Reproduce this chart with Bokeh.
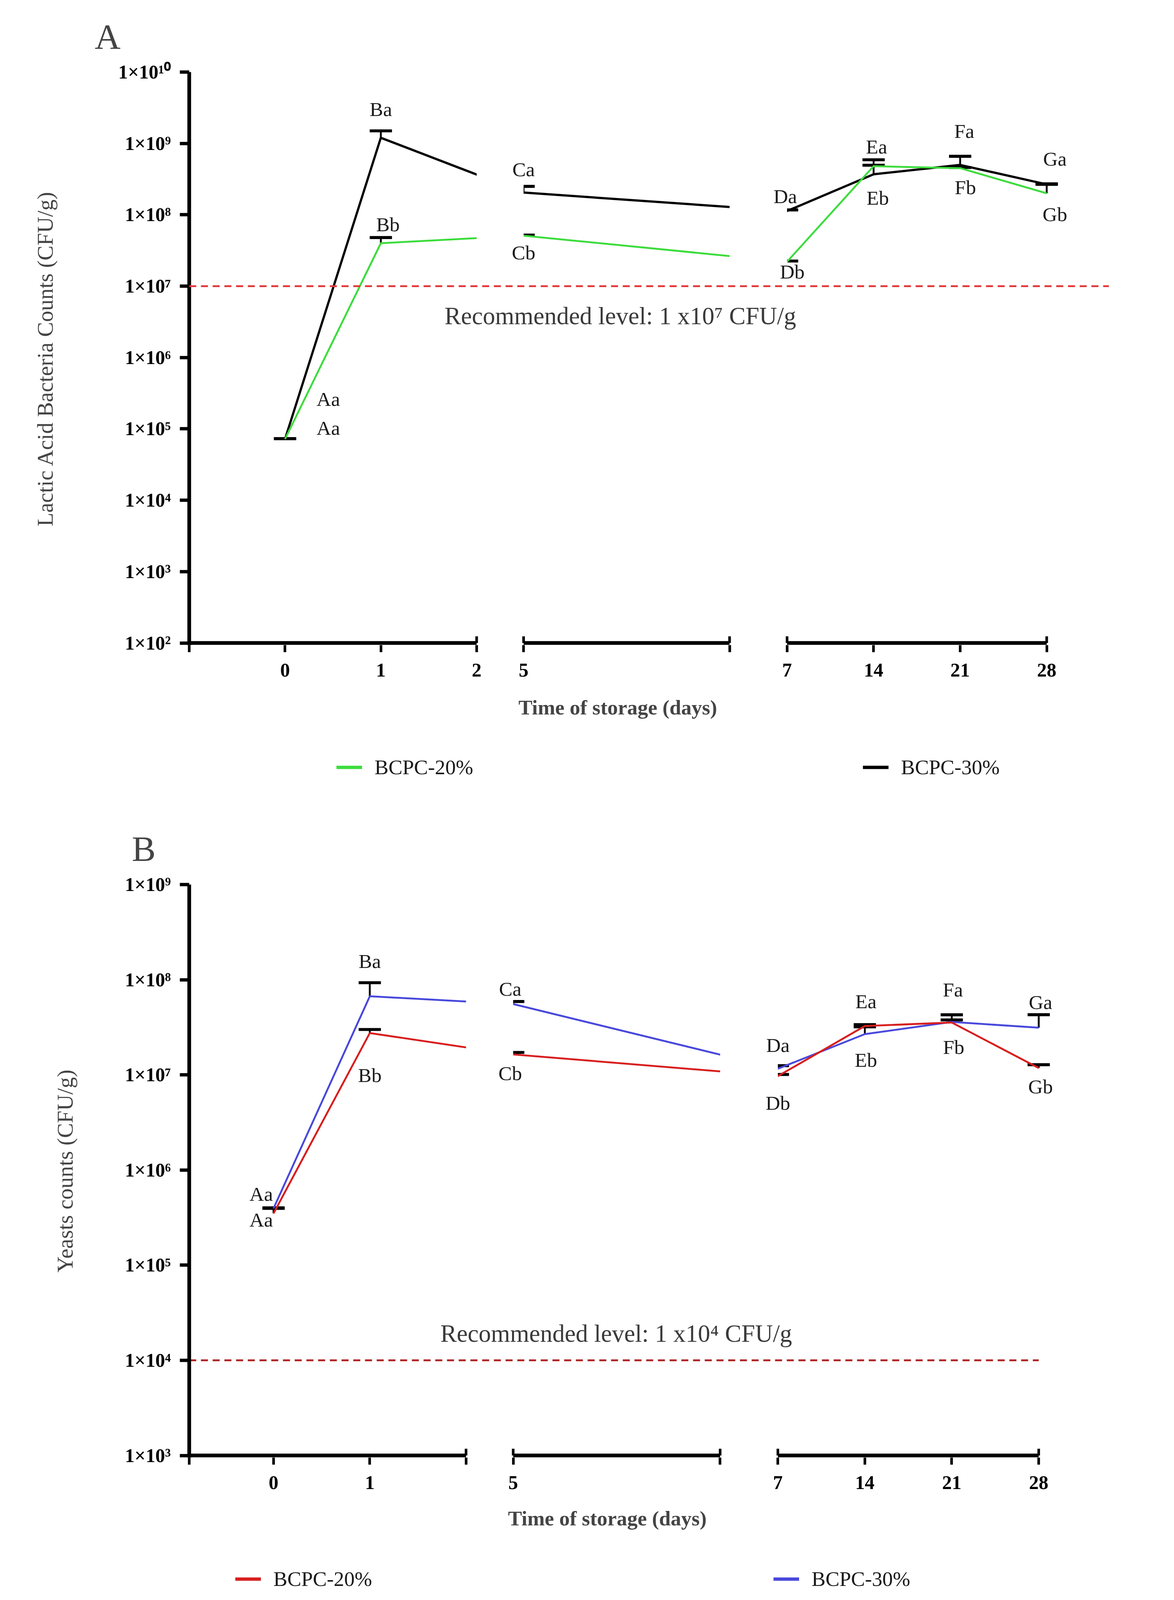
import math
from bokeh.plotting import figure
from bokeh.models import (Range1d, FixedTicker, Span, Whisker, TeeHead, ColumnDataSource,
                          Legend, LegendItem)
from bokeh.layouts import column
from bokeh.embed import file_html
from bokeh.resources import INLINE
from bokeh.core.properties import value

# ---------------- data ----------------
DAYS = [0, 1, 5, 7, 14, 21, 28]
X_TICK_DAYS = [0, 1, 2, 5, 7, 14, 21, 28]
X_TICK_LABELS_A = ["0", "1", "2", "5", "7", "14", "21", "28"]
X_TICK_LABELS_B = ["0", "1", "", "5", "7", "14", "21", "28"]
SERIES_NAMES = ["BCPC-20%", "BCPC-30%"]
X_TITLE = "Time of storage (days)"

# Panel A: lactic acid bacteria (CFU/g), mean and upper error
LAB_20 = [7.2e4, 4.0e7, 5.1e7, 2.2e7, 4.8e8, 4.5e8, 2.0e8]
LAB_20_UP = [7.3e4, 4.8e7, 5.2e7, 2.25e7, 4.95e8, 4.6e8, 2.67e8]
LAB_30 = [7.2e4, 1.2e9, 2.05e8, 1.13e8, 3.7e8, 5.0e8, 2.67e8]
LAB_30_UP = [7.3e4, 1.5e9, 2.5e8, 1.17e8, 5.9e8, 6.6e8, 2.72e8]
LAB_THRESHOLD = 1e7
LAB_LABELS = ["Aa", "Aa", "Ba", "Bb", "Ca", "Cb", "Da", "Db", "Ea", "Eb", "Fa", "Fb", "Ga", "Gb"]
LAB_LABEL_DAYS = [0, 0, 1, 1, 5, 5, 7, 7, 14, 14, 21, 21, 28, 28]
LAB_LABEL_SERIES = ["30", "30", "30", "20", "30", "20", "30", "20", "30", "30", "30", "30", "30", "20"]

# Panel B: yeasts (CFU/g), mean and upper error
YEAST_20 = [3.5e5, 2.75e7, 1.64e7, 9.7e6, 3.26e7, 3.55e7, 1.18e7]
YEAST_20_UP = [3.95e5, 3.0e7, 1.72e7, 1.01e7, 3.37e7, 3.78e7, 1.28e7]
YEAST_30 = [3.95e5, 6.7e7, 5.55e7, 1.16e7, 2.68e7, 3.6e7, 3.13e7]
YEAST_30_UP = [4.0e5, 9.3e7, 5.9e7, 1.25e7, 3.2e7, 4.28e7, 4.29e7]
YEAST_THRESHOLD = 1e4
YEAST_LABELS = ["Aa", "Aa", "Ba", "Bb", "Ca", "Cb", "Da", "Db", "Ea", "Eb", "Fa", "Fb", "Ga", "Gb"]
YEAST_LABEL_DAYS = [0, 0, 1, 1, 5, 5, 7, 7, 14, 14, 21, 21, 28, 28]
YEAST_LABEL_SERIES = ["30", "20", "30", "20", "30", "20", "30", "20", "20", "30", "20", "20", "30", "20"]

# ---------------- style ----------------
S = 0.955                      # page scale factor
FONT = "Liberation Serif"


def k(v):
    return v * S


def ki(v):
    return int(round(v * S))


def fs(v):
    return "%.1fpx" % (v * S)


LAB_LABEL_DX = [116, 116, 0, 19, 0, 0, -5, 14, 8, 11, 11, 14, 22, 22]
LAB_LABEL_DY = [-107, -30, -77, -50, -62, 45, -39, 27, -74, 63, -91, 60, -69, 56]
YEAST_LABEL_DX = [-33, -33, 0, 0, -8, -8, 0, 0, 3, 3, 3, 5, 5, 5]
YEAST_LABEL_DY = [-39, 17, -94, 113, -41, 50, -63, 72, -66, 69, -88, 66, -69, 50]

# broken x axis: three segments on one virtual axis
SEG1_END = 2.0
SEG2 = (2.49, 4.64)
SEG3 = (5.24, 7.95)


def xpos(day):
    if day <= 2:
        return float(day)
    if day < 7:
        return SEG2[0] + (day - 5) * (SEG2[1] - SEG2[0])
    return SEG3[0] + (day - 7) * (SEG3[1] - SEG3[0]) / 21.0


SUP = str.maketrans("0123456789", "⁰¹²³⁴⁵⁶⁷⁸⁹")


def sci(e):
    return "1×10" + str(e).translate(SUP)


W, LB, RB = 2850, 484, 11


def make_panel(cfg):
    lo, hi, pad = cfg["lo"], cfg["hi"], cfg["pad"]
    x0, x1 = cfg["xr"]
    ybot = 10 ** (lo - pad)
    p = figure(width=W, height=cfg["H"],
               x_range=Range1d(x0, x1), y_range=Range1d(ybot, 10 ** hi),
               y_axis_type="log", output_backend="svg", toolbar_location=None,
               min_border_left=LB, min_border_right=RB,
               min_border_top=cfg["top"], min_border_bottom=cfg["bottom"])
    p.grid.visible = False
    p.outline_line_color = None
    p.background_fill_color = "white"
    p.border_fill_color = "white"
    frame_h = cfg["H"] - cfg["top"] - cfg["bottom"]
    px_dec = frame_h / (hi - lo + pad)

    # title letter
    p.title.text = cfg["letter"]
    p.title.text_font = FONT
    p.title.text_font_size = fs(96)
    p.title.text_font_style = "normal"
    p.title.align = "left"
    p.title.offset = cfg["title_offset"]
    p.title.standoff = cfg["title_standoff"]

    xs = [xpos(d) for d in DAYS]
    s20, s20u, s30, s30u = cfg["s20"], cfg["s20u"], cfg["s30"], cfg["s30u"]
    p.line(xs, s30, line_color=cfg["c30"], line_width=k(cfg["w30"]))
    p.line(xs, s20, line_color=cfg["c20"], line_width=k(cfg["w20"]))

    # gaps of the broken axis
    p.quad(left=[SEG1_END, SEG2[1]], right=[SEG2[0], SEG3[0]],
           bottom=[ybot, ybot], top=[10 ** hi, 10 ** hi],
           fill_color="white", line_color=None)

    # threshold line
    thr = cfg["thr"]
    if cfg["thr_full"]:
        p.add_layout(Span(location=thr, dimension="width", line_color=cfg["thr_color"],
                          line_width=k(5), line_dash="18 12"))
    else:
        p.segment(x0=[x0], y0=[thr], x1=[xpos(28)], y1=[thr],
                  line_color=cfg["thr_color"], line_width=k(5), line_dash="18 12")
    p.text(x=[cfg["rec_x"]], y=[thr], text=[cfg["rec_text"]], y_offset=k(cfg["rec_dy"]),
           text_align="center", text_baseline="middle", text_color="#3a3a3a",
           text_font=value(FONT), text_font_size=value(fs(66)))

    # x axis segments and end ticks
    segs = [(x0, SEG1_END), SEG2, SEG3]
    p.segment(x0=[s[0] for s in segs], y0=[10 ** lo] * 3, x1=[s[1] for s in segs], y1=[10 ** lo] * 3,
              line_color="black", line_width=k(10), line_cap="butt")
    ends = [SEG1_END, SEG2[0], SEG2[1], SEG3[0], SEG3[1]]
    up = k(18) / px_dec
    p.segment(x0=ends, y0=[10 ** lo] * len(ends), x1=ends, y1=[10 ** (lo + up)] * len(ends),
              line_color="black", line_width=k(7))

    # error bars
    for vals, ups in ((s30, s30u), (s20, s20u)):
        src = ColumnDataSource(dict(x=xs, lo=vals, hi=ups))
        p.add_layout(Whisker(base="x", lower="lo", upper="hi", source=src,
                             line_color="black", line_width=k(5),
                             upper_head=TeeHead(size=ki(60), line_width=k(8), line_color="black"),
                             lower_head=None))

    # significance letters
    lookup = {"20": dict(zip(DAYS, s20)), "30": dict(zip(DAYS, s30))}
    lsrc = ColumnDataSource(dict(
        x=[xpos(d) for d in cfg["ldays"]],
        y=[lookup[s][d] for s, d in zip(cfg["lser"], cfg["ldays"])],
        t=cfg["labels"], dx=[k(v) for v in cfg["ldx"]], dy=[k(v) for v in cfg["ldy"]]))
    p.text(x="x", y="y", text="t", x_offset="dx", y_offset="dy", source=lsrc,
           text_align="center", text_baseline="middle", text_color="#1a1a1a",
           text_font=value(FONT), text_font_size=value(fs(54)))

    # x axis
    tick_pos = [x0] + [xpos(d) for d in X_TICK_DAYS] + [SEG2[1]]
    tick_lab = [""] + cfg["xlabels"] + [""]
    p.xaxis.ticker = FixedTicker(ticks=tick_pos)
    p.xaxis.major_label_overrides = {t: l for t, l in zip(tick_pos, tick_lab)}
    p.xaxis.bounds = (x0, cfg["xbound"])
    p.xaxis.axis_line_color = None
    p.xaxis.major_tick_out = ki(19)
    p.xaxis.major_tick_in = 0
    p.xaxis.major_tick_line_width = k(7)
    p.xaxis.minor_tick_line_color = None
    p.xaxis.major_label_standoff = ki(30)
    p.xaxis.major_label_text_font = FONT
    p.xaxis.major_label_text_font_style = "bold"
    p.xaxis.major_label_text_font_size = fs(52)
    p.xaxis.major_label_text_color = "black"
    # trailing no-break spaces move the centred title left, under the data segments
    p.xaxis.axis_label = X_TITLE + "\u00a0" * cfg["xlab_pad"]
    p.xaxis.axis_label_text_font = FONT
    p.xaxis.axis_label_text_font_style = "bold"
    p.xaxis.axis_label_text_font_size = fs(56)
    p.xaxis.axis_label_standoff = cfg["xlab_standoff"]

    # y axis
    yt = [10.0 ** e for e in range(lo, hi + 1)]
    p.yaxis.ticker = FixedTicker(ticks=yt)
    p.yaxis.major_label_overrides = {v: sci(e) for v, e in zip(yt, range(lo, hi + 1))}
    p.yaxis.axis_line_width = k(10)
    p.yaxis.axis_line_color = "black"
    p.yaxis.major_tick_out = ki(25)
    p.yaxis.major_tick_in = 0
    p.yaxis.major_tick_line_width = k(9)
    p.yaxis.minor_tick_line_color = None
    p.yaxis.major_label_standoff = ki(24)
    p.yaxis.major_label_text_font = FONT
    p.yaxis.major_label_text_font_style = "bold"
    p.yaxis.major_label_text_font_size = fs(52)
    p.yaxis.major_label_text_color = "black"
    p.yaxis.axis_label = cfg["ylabel"]
    p.yaxis.axis_label_text_font = FONT
    p.yaxis.axis_label_text_font_style = "normal"
    p.yaxis.axis_label_text_font_size = fs(60)
    p.yaxis.axis_label_standoff = cfg["ylab_standoff"]
    return p


def make_legend_strip(cfg):
    # a strip under the panel that holds the panel's legend
    f = figure(width=W, height=cfg["LH"], x_range=Range1d(0, 1), y_range=Range1d(0, 1),
               output_backend="svg", toolbar_location=None,
               min_border_left=LB, min_border_right=RB, min_border_top=0, min_border_bottom=0)
    f.axis.visible = False
    f.grid.visible = False
    f.outline_line_color = None
    r20 = f.line(x=[math.nan], y=[math.nan], line_color=cfg["c20"], line_width=k(9))
    r30 = f.line(x=[math.nan], y=[math.nan], line_color=cfg["c30"], line_width=k(9))
    leg = Legend(items=[LegendItem(label=SERIES_NAMES[0], renderers=[r20]),
                        LegendItem(label=SERIES_NAMES[1], renderers=[r30])],
                 location=cfg["leg_loc"], orientation="horizontal",
                 glyph_width=66, glyph_height=64, label_height=64, label_width=ki(300),
                 label_standoff=32, spacing=cfg["leg_spacing"], padding=0, margin=0,
                 border_line_color=None, background_fill_alpha=0,
                 label_text_font=FONT, label_text_font_size=fs(56),
                 label_text_color="#1a1a1a")
    f.add_layout(leg, "center")
    return f


CFG_A = dict(
    letter="A", title_offset=-242, title_standoff=80,
    H=1872, top=176, bottom=221,
    lo=2, hi=10, pad=0.03, xr=(-1.0, 8.6), xbound=7.98,
    s20=LAB_20, s20u=LAB_20_UP, s30=LAB_30, s30u=LAB_30_UP,
    c20="#3cdc3c", c30="#000000", w20=5, w30=6,
    thr=LAB_THRESHOLD, thr_full=True, thr_color="#e23a3a",
    rec_x=3.5, rec_dy=80, rec_text="Recommended level: 1 x10⁷ CFU/g",
    labels=LAB_LABELS, ldays=LAB_LABEL_DAYS, lser=LAB_LABEL_SERIES,
    ldx=LAB_LABEL_DX, ldy=LAB_LABEL_DY,
    xlabels=X_TICK_LABELS_A, xlab_standoff=46, xlab_pad=12,
    ylabel="Lactic Acid Bacteria Counts (CFU/g)", ylab_standoff=153,
    LH=150, leg_loc=(377, 26), leg_spacing=964,
)

CFG_B = dict(
    letter="B", title_offset=-147, title_standoff=81,
    H=1930, top=242, bottom=221,
    lo=3, hi=9, pad=0.0225, xr=(-0.876, 8.68), xbound=7.96,
    s20=YEAST_20, s20u=YEAST_20_UP, s30=YEAST_30, s30u=YEAST_30_UP,
    c20="#d81e1e", c30="#4848dc", w20=5, w30=5,
    thr=YEAST_THRESHOLD, thr_full=False, thr_color="#b02424",
    rec_x=3.56, rec_dy=-72, rec_text="Recommended level: 1 x10⁴ CFU/g",
    labels=YEAST_LABELS, ldays=YEAST_LABEL_DAYS, lser=YEAST_LABEL_SERIES,
    ldx=YEAST_LABEL_DX, ldy=YEAST_LABEL_DY,
    xlabels=X_TICK_LABELS_B, xlab_standoff=42, xlab_pad=16,
    ylabel="Yeasts counts (CFU/g)", ylab_standoff=119,
    LH=130, leg_loc=(118, 8), leg_spacing=994,
)

layout = column(make_panel(CFG_A), make_legend_strip(CFG_A),
                make_panel(CFG_B), make_legend_strip(CFG_B))
open("out.html", "w").write(file_html(layout, INLINE, title="Microbial counts"))
